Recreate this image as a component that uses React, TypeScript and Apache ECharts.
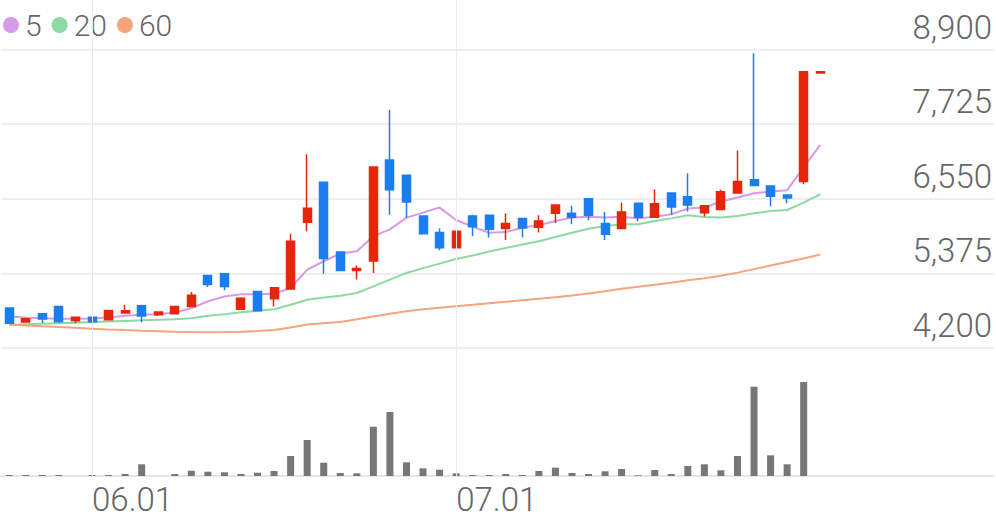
import React, { useEffect, useRef } from 'react';
import * as echarts from 'echarts';

const dates = [
  '05.25', '05.26', '05.27', '05.28', '05.31', '06.01', '06.02', '06.03', '06.04', '06.07',
  '06.08', '06.09', '06.10', '06.11', '06.14', '06.15', '06.16', '06.17', '06.18', '06.21',
  '06.22', '06.23', '06.24', '06.25', '06.28', '06.29', '06.30', '07.01', '07.02', '07.05',
  '07.06', '07.07', '07.08', '07.09', '07.12', '07.13', '07.14', '07.15', '07.16', '07.19',
  '07.20', '07.21', '07.22', '07.23', '07.26', '07.27', '07.28', '07.29', '07.30', '08.02',
  '08.03', '08.04', '08.05', '08.06', '08.09', '08.10', '08.11', '08.12', '08.13', '08.17',
];

const opens = [
  4830, 4610, 4740, 4855, 4630, 4685, 4645, 4750, 4865, 4725,
  4740, 4855, 5340, 5370, 4810, 5090, 4975, 5130, 6180, 6810,
  5710, 5420, 5570, 7160, 6920, 6280, 6020, 5780, 6280, 6290,
  6080, 6240, 6100, 6320, 6320, 6550, 6160, 6080, 6480, 6260,
  6640, 6580, 6330, 6380, 6640, 6850, 6750, 6610, 6820, 8530,
];
const closes = [
  4590, 4660, 4655, 4615, 4685, 4615, 4790, 4785, 4705, 4765,
  4855, 5030, 5200, 5170, 4985, 4785, 5150, 5880, 6400, 5610,
  5420, 5450, 7050, 6690, 6500, 6000, 5780, 6040, 6110, 6070,
  6160, 6090, 6200, 6450, 6260, 6290, 5990, 6340, 6260, 6470,
  6420, 6450, 6440, 6660, 6820, 6760, 6590, 6560, 8550, 8550,
];
const lows = [
  4585, 4605, 4595, 4600, 4595, 4590, 4640, 4745, 4605, 4705,
  4735, 4850, 5160, 5110, 4805, 4780, 4855, 5125, 6040, 5370,
  5410, 5280, 5380, 6300, 6250, 5990, 5740, 5770, 5960, 5940,
  5900, 5940, 6020, 6170, 6150, 6210, 5900, 6070, 6190, 6250,
  6300, 6350, 6270, 6370, 6630, 6750, 6430, 6480, 6780, 8530,
];
const highs = [
  4840, 4670, 4745, 4860, 4690, 4690, 4795, 4880, 4880, 4770,
  4860, 5080, 5350, 5380, 5000, 5095, 5160, 6000, 7250, 6820,
  5720, 5500, 7060, 7950, 6930, 6290, 6080, 6050, 6300, 6300,
  6320, 6250, 6290, 6460, 6440, 6560, 6340, 6490, 6490, 6700,
  6650, 6950, 6450, 6690, 7310, 8840, 6760, 6620, 8560, 8550,
];

const volumes = [
  10000, 10000, 10000, 10000, 0, 10000, 10000, 20000, 117000, 0,
  20000, 53000, 43000, 37000, 20000, 33000, 50000, 200000, 360000, 133000,
  30000, 27000, 493000, 640000, 137000, 77000, 63000, 27000, 10000, 10000,
  20000, 10000, 50000, 83000, 30000, 20000, 47000, 70000, 7000, 60000,
  20000, 100000, 117000, 57000, 200000, 893000, 207000, 117000, 940000, 0,
];

const ma5 = [
  4695, 4680, 4670, 4659, 4659, 4664, 4680, 4706, 4722, 4733,
  4759, 4825, 4936, 5012, 5047, 5047, 5055, 5145, 5434, 5566,
  5688, 5724, 5961, 6067, 6253, 6332, 6411, 6215, 6110, 6015,
  6025, 6094, 6131, 6199, 6253, 6268, 6253, 6265, 6241, 6268,
  6305, 6395, 6411, 6506, 6569, 6637, 6664, 6685, 7044, 7397,
];
const ma20 = [
  4564, 4572, 4580, 4588, 4596, 4611, 4619, 4627, 4635, 4643,
  4651, 4667, 4706, 4730, 4762, 4785, 4809, 4880, 4960, 4996,
  5023, 5066, 5170, 5276, 5382, 5458, 5529, 5600, 5656, 5719,
  5775, 5830, 5882, 5949, 6015, 6078, 6120, 6147, 6147, 6199,
  6241, 6289, 6262, 6253, 6278, 6321, 6357, 6373, 6490, 6621,
];
const ma60 = [
  4572, 4556, 4543, 4532, 4520, 4505, 4493, 4482, 4472, 4464,
  4456, 4450, 4448, 4450, 4456, 4466, 4485, 4524, 4569, 4591,
  4611, 4651, 4695, 4738, 4778, 4809, 4833, 4857, 4880, 4904,
  4928, 4952, 4975, 4999, 5028, 5058, 5094, 5134, 5165, 5197,
  5229, 5268, 5300, 5339, 5387, 5442, 5498, 5553, 5608, 5672,
];

const priceTicks = [4200, 5375, 6550, 7725, 8900];
const maNames = ['5', '20', '60'];

const RED = '#e5260b';
const BLUE = '#1a7ef0';
const MA_COLORS = ['#d69ae8', '#8dd9a3', '#f5a47b'];
const TEXT = '#666666';
const FONT = 'Roboto';

function fmt(v: number): string {
  return String(v).replace(/\B(?=(\d{3})+(?!\d))/g, ',');
}

export default function App() {
  const ref = useRef<HTMLDivElement>(null);

  useEffect(() => {
    if (!ref.current) return;
    const chart = echarts.init(ref.current, undefined, { renderer: 'svg' });
    const candleData = opens.map((o, i) => [o, closes[i], lows[i], highs[i]]);
    const maSeries = [ma5, ma20, ma60];
    const tickInterval = priceTicks[1] - priceTicks[0];
    const markDates = dates.filter((d) => d.endsWith('.01'));

    const option: any = {
      animation: false,
      backgroundColor: '#ffffff',
      legend: {
        data: maNames,
        left: 3,
        top: 10,
        padding: 0,
        icon: 'circle',
        itemWidth: 16,
        itemHeight: 16,
        itemGap: 10,
        selectedMode: false,
        textStyle: {
          fontSize: 30,
          color: TEXT,
          fontFamily: FONT,
          fontWeight: 300,
          padding: [0, 0, 0, 1],
        },
      },
      grid: [
        { left: 1, right: 2, top: 49.5, height: 298.5 },
        { left: 1, right: 2, top: 0, bottom: 43 },
      ],
      xAxis: [
        {
          type: 'category',
          gridIndex: 0,
          data: dates,
          boundaryGap: true,
          show: false,
        },
        {
          type: 'category',
          gridIndex: 1,
          data: dates,
          boundaryGap: true,
          axisLine: { show: true, lineStyle: { color: '#e6e6e6', width: 2 } },
          axisTick: { show: false },
          splitLine: { show: false },
          axisLabel: {
            interval: (_i: number, v: string) => v.endsWith('.01'),
            align: 'left',
            margin: 7,
            fontSize: 33,
            fontFamily: FONT,
            fontWeight: 300,
            color: TEXT,
          },
        },
      ],
      yAxis: [
        {
          type: 'value',
          gridIndex: 0,
          position: 'right',
          min: priceTicks[0],
          max: priceTicks[priceTicks.length - 1],
          interval: tickInterval,
          axisLine: { show: false },
          axisTick: { show: false },
          axisLabel: {
            inside: true,
            margin: 2,
            verticalAlign: 'bottom',
            padding: [0, 0, 6, 0],
            fontSize: 33,
            fontFamily: FONT,
            fontWeight: 300,
            color: TEXT,
            formatter: (v: number) => fmt(v),
          },
          splitLine: { show: true, lineStyle: { color: '#eeeeee', width: 2 } },
        },
        {
          type: 'value',
          gridIndex: 1,
          min: 0,
          max: 4760000,
          show: false,
          splitLine: { show: false },
        },
      ],
      series: [
        {
          name: 'volume',
          type: 'bar',
          xAxisIndex: 1,
          yAxisIndex: 1,
          data: volumes,
          barWidth: 7,
          itemStyle: { color: '#777777' },
          z: 1,
          markLine: {
            silent: true,
            symbol: ['none', 'none'],
            label: { show: false },
            lineStyle: { color: '#ebebeb', width: 1, type: 'solid' },
            data: markDates.map((d) => ({ xAxis: d })),
          },
        },
        ...maNames.map((name, k) => ({
          name,
          type: 'line',
          xAxisIndex: 0,
          yAxisIndex: 0,
          data: maSeries[k],
          symbol: 'none',
          showSymbol: false,
          lineStyle: { color: MA_COLORS[k], width: 2 },
          itemStyle: { color: MA_COLORS[k] },
          z: 2,
        })),
        {
          name: 'price',
          type: 'candlestick',
          xAxisIndex: 0,
          yAxisIndex: 0,
          data: candleData,
          barWidth: 8.5,
          itemStyle: {
            color: RED,
            color0: BLUE,
            borderColor: RED,
            borderColor0: BLUE,
            borderWidth: 1.5,
          },
          z: 3,
        },
      ],
    };
    chart.setOption(option);
    return () => chart.dispose();
  }, []);

  return (
    <div
      ref={ref}
      style={{ position: 'fixed', left: 0, top: 0, width: 996, height: 519, background: '#fff' }}
    />
  );
}
